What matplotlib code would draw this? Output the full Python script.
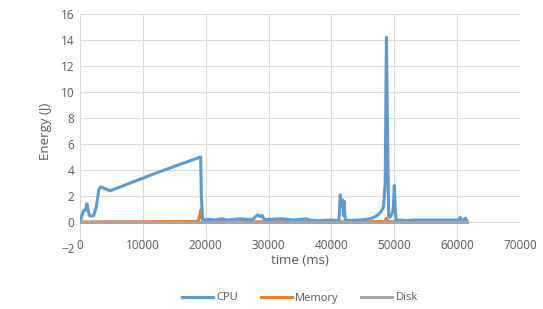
import numpy as np
import matplotlib
matplotlib.use("Agg")
import matplotlib.pyplot as plt

# CPU energy samples (time in ms, energy in J)
cpu_t = [0, 300, 600, 900, 1100, 1300, 1500, 1800, 2200, 2600, 3000, 3300, 3800, 4800,
         8000, 12000, 16000, 19200, 19300, 19500, 20500, 21500, 22500, 23500, 24500,
         25500, 26500, 27500, 28000, 28300, 28700, 29000, 29300, 30500, 32000, 34000,
         36000, 36500, 38000, 40000, 41200, 41400, 41600, 41800, 41900, 42000, 42200,
         43000, 44500, 45500, 46500, 47300, 47900, 48300, 48550, 48750, 48950, 49100,
         49300, 49600, 49850, 50000, 50150, 50300, 51000, 52000, 53000, 55000, 57000,
         59000, 60300, 60500, 60700, 61000, 61300, 61500]
cpu_e = [0.0, 0.5, 0.9, 0.9, 1.4, 0.9, 0.5, 0.45, 0.5, 1.2, 2.5, 2.7, 2.6, 2.4,
         3.0, 3.75, 4.45, 5.0, 2.0, 0.15, 0.2, 0.15, 0.25, 0.15, 0.2,
         0.25, 0.2, 0.2, 0.45, 0.55, 0.4, 0.5, 0.2, 0.2, 0.25, 0.15,
         0.25, 0.15, 0.1, 0.15, 0.1, 2.1, 1.2, 1.7, 0.5, 1.6, 0.15,
         0.12, 0.15, 0.2, 0.3, 0.5, 0.8, 1.2, 3.0, 14.2, 6.0, 0.5,
         0.35, 0.6, 1.0, 2.8, 1.0, 0.1, 0.15, 0.1, 0.15, 0.15, 0.15,
         0.15, 0.15, 0.35, 0.15, 0.15, 0.3, 0.15]

# Memory energy samples
mem_t = [0, 5000, 10000, 18800, 19100, 19250, 19400, 19700, 25000, 35000, 45000,
         48500, 48750, 49000, 55000, 61500]
mem_e = [0.0, 0.02, 0.02, 0.05, 0.6, 0.95, 0.3, 0.02, 0.02, 0.02, 0.02,
         0.05, 0.3, 0.03, 0.02, 0.02]

# Disk energy samples
disk_t = [0, 10000, 20000, 30000, 40000, 50000, 61500]
disk_e = [0.03, 0.03, 0.03, 0.03, 0.03, 0.03, 0.03]

plt.rcParams["font.family"] = ["Open Sans", "DejaVu Sans"]

fig = plt.figure(figsize=(5.43, 3.09), dpi=100)
ax = fig.add_axes([80 / 543, 61 / 309, 440 / 543, 234 / 309])

ax.plot(cpu_t, cpu_e, color="#5B9BD5", lw=2.2, label="CPU", zorder=3)
ax.plot(mem_t, mem_e, color="#ED7D31", lw=2.2, label="Memory", zorder=2)
ax.plot(disk_t, disk_e, color="#A5A5A5", lw=2.2, label="Disk", zorder=4)

ax.set_xlim(0, 70000)
ax.set_ylim(-2, 16)
ax.set_xticks(range(0, 70001, 10000))
ax.set_yticks(range(-2, 17, 2))
ax.grid(True, color="#D9D9D9", lw=0.8)
ax.set_axisbelow(True)
for s in ax.spines.values():
    s.set_visible(False)
# x tick labels sit below the y=0 line, like the horizontal axis crossing at zero
ax.spines["bottom"].set_position(("data", 0))
ax.tick_params(length=0, labelsize=8.5, colors="#595959")
ax.tick_params(axis="x", pad=12)
ax.tick_params(axis="y", pad=4)

ax.set_xlabel("time (ms)", fontsize=9.5, color="#595959")
ax.xaxis.set_label_coords(0.5, -0.025)
ax.set_ylabel("Energy (J)", fontsize=9.5, color="#595959", labelpad=6)

fig.legend(loc="center", bbox_to_anchor=(300 / 543, 1 - 298 / 309), ncol=3,
           frameon=False, fontsize=8, handlelength=2.8, handletextpad=0.3,
           columnspacing=2.0, labelcolor="#595959")

fig.savefig("out.png", dpi=100)
